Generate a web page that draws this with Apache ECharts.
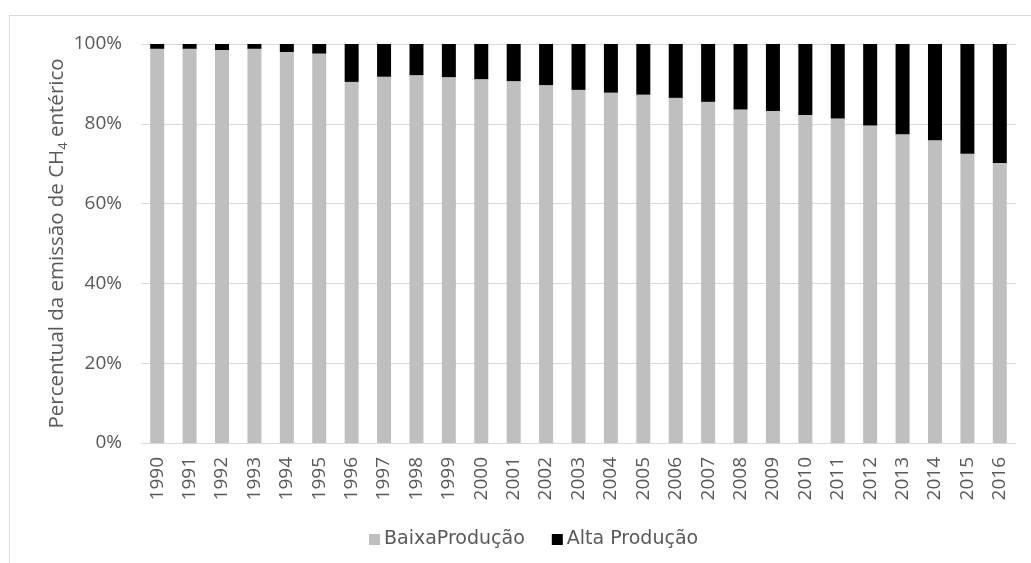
<!DOCTYPE html>
<html>
<head>
<meta charset="utf-8">
<script src="https://cdn.jsdelivr.net/npm/echarts@6/dist/echarts.min.js"></script>
<style>
html,body{margin:0;padding:0;background:#fff;overflow:hidden;}
#frame{position:absolute;left:9px;top:15px;width:1100px;height:700px;border:1px solid #D9D9D9;box-sizing:border-box;}
#chart{position:absolute;left:0;top:0;width:1031px;height:563px;}
</style>
</head>
<body>
<div id="frame"></div>
<div id="chart"></div>
<script>
const years = ['1990','1991','1992','1993','1994','1995','1996','1997','1998','1999','2000','2001','2002','2003','2004','2005','2006','2007','2008','2009','2010','2011','2012','2013','2014','2015','2016'];
const baixaProducao = [98.8,98.8,98.5,98.8,98.0,97.6,90.5,91.8,92.2,91.7,91.2,90.7,89.7,88.5,87.8,87.3,86.5,85.5,83.6,83.2,82.2,81.3,79.6,77.4,75.9,72.5,70.2];
const altaProducao = baixaProducao.map(v => +(100 - v).toFixed(1));
const yTicks = [0,20,40,60,80,100];
const seriesNames = ['BaixaProdução','Alta Produção'];

const chart = echarts.init(document.getElementById('chart'), null, {renderer:'canvas'});
const txt = '#595959';
chart.setOption({
  backgroundColor: 'transparent',
  animation: false,
  grid: {left:141, right:15, top:44, bottom:120, containLabel:false},
  legend: {
    data: seriesNames,
    bottom: 9,
    left: 364,
    itemWidth: 11,
    itemHeight: 11,
    itemGap: 27,
    icon: 'rect',
    textStyle: {color: txt, fontSize: 19, fontFamily: 'DejaVu Sans', padding:[0,0,0,-1]}
  },
  xAxis: {
    type: 'category',
    data: years,
    axisLine: {lineStyle: {color: '#D9D9D9', width: 1}},
    axisTick: {show: false},
    axisLabel: {rotate: 90, color: txt, fontSize: 19, fontFamily: 'Open Sans', margin: 14, interval: 0}
  },
  yAxis: {
    type: 'value',
    min: 0, max: 100, interval: 20,
    axisLine: {show: false},
    axisTick: {show: false},
    splitLine: {lineStyle: {color: '#D9D9D9', width: 1}},
    axisLabel: {color: txt, fontSize: 19, fontFamily: 'Open Sans', margin: 19, formatter: v => yTicks.includes(v) ? v + '%' : ''},
    name: '{a|Percentual da emissão de CH}{s|4}{a| entérico}',
    nameLocation: 'middle',
    nameGap: 71,
    nameMoveOverlap: false,
    nameTextStyle: {
      rich: {
        a: {color: txt, fontSize: 20.5, fontFamily: 'Open Sans', lineHeight: 26},
        s: {color: txt, fontSize: 13, fontFamily: 'Open Sans', lineHeight: 13, verticalAlign: 'bottom'}
      }
    }
  },
  series: [
    {name: seriesNames[0], type: 'bar', stack: 'total', data: baixaProducao, barWidth: 14, itemStyle: {color: '#BFBFBF'}},
    {name: seriesNames[1], type: 'bar', stack: 'total', data: altaProducao, barWidth: 14, itemStyle: {color: '#000000'}}
  ]
});
</script>
</body>
</html>
